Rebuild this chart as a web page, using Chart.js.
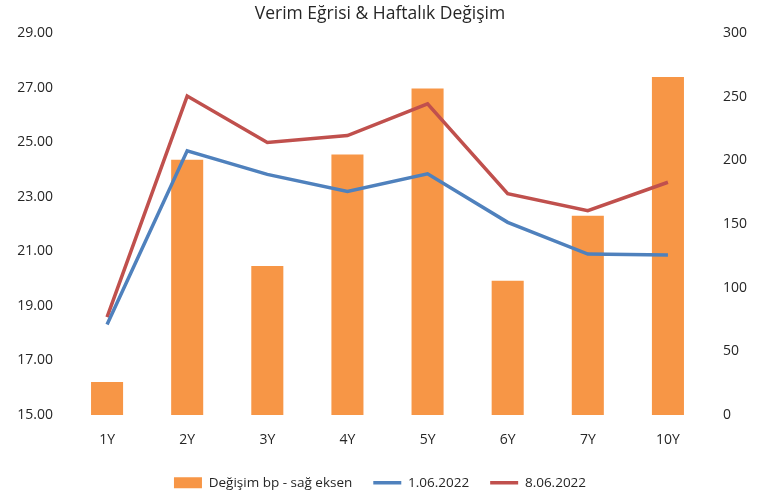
<!DOCTYPE html>
<html>
<head>
<meta charset="utf-8">
<script src="https://cdn.jsdelivr.net/npm/chart.js@4/dist/chart.umd.min.js"></script>
<style>
  html, body { margin: 0; padding: 0; background: #fff; }
  #wrap { width: 760px; height: 499px; }
</style>
</head>
<body>
<div id="wrap"><canvas id="verim"></canvas></div>
<script>
const vadeler = ['1Y', '2Y', '3Y', '4Y', '5Y', '6Y', '7Y', '10Y'];
const degisimBp = [26, 200.5, 117, 204.5, 256.5, 105.5, 156.5, 265.5];
const verim0106 = [18.32, 24.68, 23.82, 23.19, 23.84, 22.06, 20.90, 20.86];
const verim0806 = [18.59, 26.69, 24.99, 25.24, 26.40, 23.11, 22.49, 23.53];

const FONT = "'Open Sans', sans-serif";
const TXT = '#262626';

const config = {
  type: 'bar',
  data: {
    labels: vadeler,
    datasets: [{
      type: 'bar',
      label: 'Değişim bp - sağ eksen',
      data: degisimBp,
      yAxisID: 'y1',
      backgroundColor: '#F79646',
      barPercentage: 0.4,
      categoryPercentage: 1,
      pointStyle: 'rect',
      order: 2
    }, {
      type: 'line',
      label: '1.06.2022',
      data: verim0106,
      yAxisID: 'y',
      borderColor: '#4F81BD',
      backgroundColor: '#4F81BD',
      borderWidth: 3.5,
      pointRadius: 0,
      tension: 0,
      pointStyle: 'line',
      order: 1
    }, {
      type: 'line',
      label: '8.06.2022',
      data: verim0806,
      yAxisID: 'y',
      borderColor: '#C0504D',
      backgroundColor: '#C0504D',
      borderWidth: 3.5,
      pointRadius: 0,
      tension: 0,
      pointStyle: 'line',
      order: 1
    }]
  },
  options: {
    responsive: true,
    maintainAspectRatio: false,
    animation: false,
    layout: { padding: { left: 0, right: 0, top: 0, bottom: -0.5 } },
    scales: {
      x: {
        grid: { display: false, drawTicks: false },
        border: { display: false },
        ticks: { color: TXT, font: { family: FONT, size: 14 }, padding: 17 },
        afterFit: s => { s.height = 40; }
      },
      y: {
        position: 'left',
        min: 15, max: 29,
        grid: { display: false, drawTicks: false },
        border: { display: false },
        ticks: {
          stepSize: 2, color: TXT, padding: 14,
          font: { family: FONT, size: 14 },
          callback: v => v.toFixed(2)
        },
        afterFit: s => { s.width = 67; }
      },
      y1: {
        position: 'right',
        min: 0, max: 300,
        grid: { display: false, drawTicks: false },
        border: { display: false },
        ticks: { stepSize: 50, color: TXT, padding: 15, font: { family: FONT, size: 14 } },
        afterFit: s => { s.width = 52; }
      }
    },
    plugins: {
      title: {
        display: true,
        text: 'Verim Eğrisi & Haftalık Değişim',
        color: TXT,
        font: { family: FONT, size: 17.5, weight: 'normal' },
        padding: { top: 4, bottom: 8 }
      },
      legend: {
        position: 'bottom',
        labels: {
          usePointStyle: true,
          pointStyleWidth: 28,
          boxHeight: 11,
          color: TXT,
          font: { family: FONT, size: 13.5 },
          padding: 21,
          sort: (a, b) => a.datasetIndex - b.datasetIndex
        }
      },
      tooltip: { enabled: false }
    }
  }
};

new Chart(document.getElementById('verim'), config);
</script>
</body>
</html>
